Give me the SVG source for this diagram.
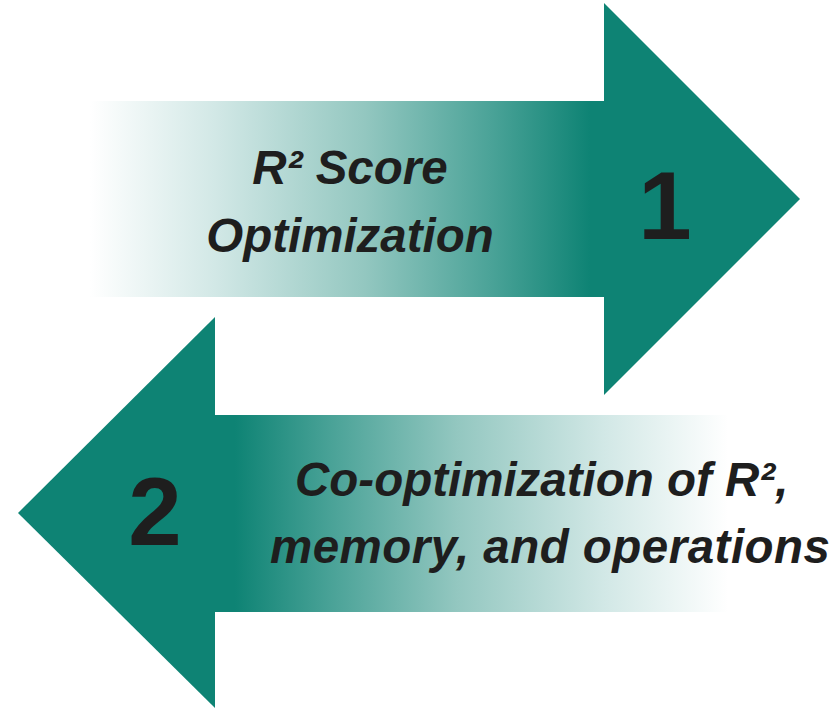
<svg xmlns="http://www.w3.org/2000/svg" width="835" height="708" viewBox="0 0 835 708">
  <defs>
    <linearGradient id="g1" gradientUnits="userSpaceOnUse" x1="90" y1="0" x2="590" y2="0">
      <stop offset="0" stop-color="#ffffff"/>
      <stop offset="0.25" stop-color="#d2e8e6"/>
      <stop offset="0.55" stop-color="#93c7c0"/>
      <stop offset="0.8" stop-color="#4ba398"/>
      <stop offset="1" stop-color="#0e8374"/>
    </linearGradient>
    <linearGradient id="g2" gradientUnits="userSpaceOnUse" x1="728" y1="0" x2="235" y2="0">
      <stop offset="0" stop-color="#ffffff"/>
      <stop offset="0.25" stop-color="#d2e8e6"/>
      <stop offset="0.55" stop-color="#93c7c0"/>
      <stop offset="0.8" stop-color="#4ba398"/>
      <stop offset="1" stop-color="#0e8374"/>
    </linearGradient>
    <style>
      .lbl { font-family: "Liberation Sans", Arial, sans-serif; font-weight: bold; font-style: italic; font-size: 47.5px; fill: #1e1e1e; }
      .num { font-family: "Liberation Sans", Arial, sans-serif; font-weight: bold; font-size: 96px; fill: #1e1e1e; }
    </style>
  </defs>
  <rect width="835" height="708" fill="#ffffff"/>
  <g id="arrow1">
    <rect x="90" y="101" width="515" height="196" fill="url(#g1)"/>
    <polygon points="604,3 800,199 604,395" fill="#0e8374"/>
    <text class="lbl" x="350" y="184" text-anchor="middle">R² Score</text>
    <text class="lbl" x="350" y="252" text-anchor="middle">Optimization</text>
    <text class="num" x="665" y="239" text-anchor="middle">1</text>
  </g>
  <g id="arrow2">
    <rect x="214" y="415" width="514" height="197" fill="url(#g2)"/>
    <polygon points="215,317 18,513 215,708" fill="#0e8374"/>
    <text class="lbl" x="295" y="496">Co-optimization of R²,</text>
    <text class="lbl" x="270" y="563" textLength="560" lengthAdjust="spacing">memory, and operations</text>
    <text class="num" x="155" y="545" text-anchor="middle">2</text>
  </g>
  <g id="connectors"/>
</svg>
